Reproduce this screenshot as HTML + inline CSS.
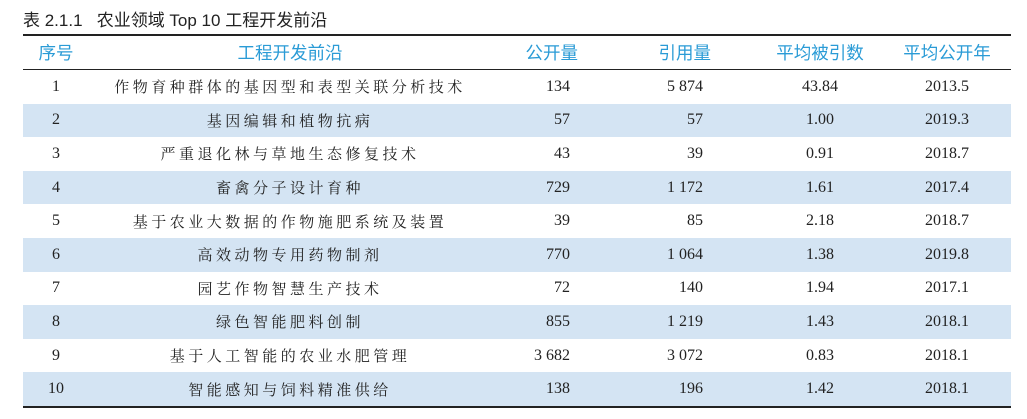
<!DOCTYPE html>
<html><head><meta charset="utf-8"><style>
body{margin:0;width:1027px;height:419px;background:#fff;overflow:hidden;}
.t{position:absolute;left:23px;top:6px;font:17px "Liberation Sans","Noto Sans CJK SC",sans-serif;color:#222;}
table{position:absolute;left:23px;top:34px;width:988px;border-collapse:collapse;}
table{border-top:2px solid #222;border-bottom:2px solid #222;}
th{height:33px;font:17.5px "Liberation Sans","Noto Sans CJK SC",sans-serif;color:#2a9bd6;font-weight:normal;border-bottom:1.5px solid #222;padding:0;}
td{height:33.6px;padding:0;font:16px "Liberation Serif","Noto Serif CJK SC",serif;color:#222;}
td.c{font-family:"Liberation Serif","Noto Serif CJK SC",serif;letter-spacing:3.5px;font-size:15px;text-align:center;}
tr.s td{background:#d4e4f3;}
.n{text-align:center}.r{text-align:right}
th.h3{text-align:right;padding-right:0}
th.h3 span{position:relative;left:8px}
th.h4{text-align:right}
th.h4 span{position:relative;left:8px}
.p5{padding-left:54px}
</style></head><body>
<div class="t">表 2.1.1&nbsp;&nbsp;&nbsp;农业领域 Top 10 工程开发前沿</div>
<table>
<colgroup><col style="width:66px"><col style="width:402px"><col style="width:79px"><col style="width:133px"><col style="width:180px"><col style="width:128px"></colgroup>
<tr><th>序号</th><th>工程开发前沿</th><th class="h3"><span>公开量</span></th><th class="h4"><span>引用量</span></th><th class="p5">平均被引数</th><th>平均公开年</th></tr>
<tr><td class="n">1</td><td class="c">作物育种群体的基因型和表型关联分析技术</td><td class="r">134</td><td class="r">5 874</td><td class="n p5">43.84</td><td class="n">2013.5</td></tr>
<tr class="s"><td class="n">2</td><td class="c">基因编辑和植物抗病</td><td class="r">57</td><td class="r">57</td><td class="n p5">1.00</td><td class="n">2019.3</td></tr>
<tr><td class="n">3</td><td class="c">严重退化林与草地生态修复技术</td><td class="r">43</td><td class="r">39</td><td class="n p5">0.91</td><td class="n">2018.7</td></tr>
<tr class="s"><td class="n">4</td><td class="c">畜禽分子设计育种</td><td class="r">729</td><td class="r">1 172</td><td class="n p5">1.61</td><td class="n">2017.4</td></tr>
<tr><td class="n">5</td><td class="c">基于农业大数据的作物施肥系统及装置</td><td class="r">39</td><td class="r">85</td><td class="n p5">2.18</td><td class="n">2018.7</td></tr>
<tr class="s"><td class="n">6</td><td class="c">高效动物专用药物制剂</td><td class="r">770</td><td class="r">1 064</td><td class="n p5">1.38</td><td class="n">2019.8</td></tr>
<tr><td class="n">7</td><td class="c">园艺作物智慧生产技术</td><td class="r">72</td><td class="r">140</td><td class="n p5">1.94</td><td class="n">2017.1</td></tr>
<tr class="s"><td class="n">8</td><td class="c">绿色智能肥料创制</td><td class="r">855</td><td class="r">1 219</td><td class="n p5">1.43</td><td class="n">2018.1</td></tr>
<tr><td class="n">9</td><td class="c">基于人工智能的农业水肥管理</td><td class="r">3 682</td><td class="r">3 072</td><td class="n p5">0.83</td><td class="n">2018.1</td></tr>
<tr class="s"><td class="n">10</td><td class="c">智能感知与饲料精准供给</td><td class="r">138</td><td class="r">196</td><td class="n p5">1.42</td><td class="n">2018.1</td></tr>
</table>
</body></html>
